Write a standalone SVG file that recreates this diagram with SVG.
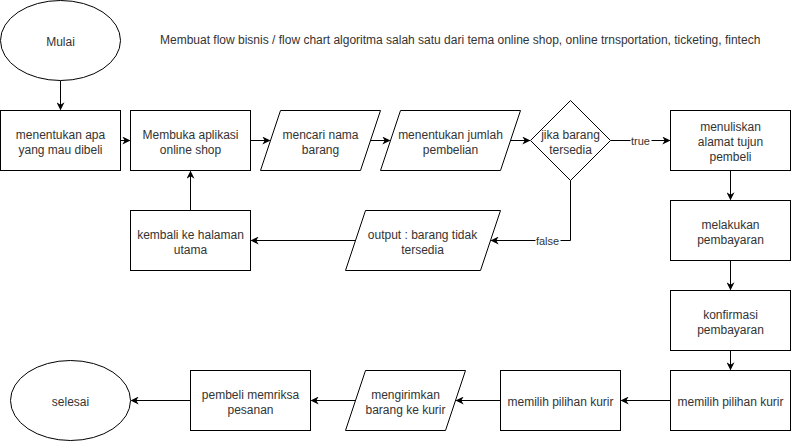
<svg xmlns="http://www.w3.org/2000/svg" width="791" height="441" viewBox="0 0 791 441">
<style>
.s{fill:#fff;stroke:#000;stroke-width:1}
.t{font-family:"Liberation Sans",Arial,sans-serif;font-size:12px;fill:#333;text-anchor:middle}
.l{font-family:"Liberation Sans",Arial,sans-serif;font-size:11px;fill:#333;text-anchor:middle}
.c{fill:none;stroke:#000;stroke-width:1}
</style>
<defs>
<marker id="a" viewBox="0 0 10 10" refX="9" refY="5" markerWidth="8" markerHeight="8" markerUnits="userSpaceOnUse" orient="auto">
<path d="M0,0 L10,5 L0,10 L3,5 Z" fill="#000"/>
</marker>
</defs>
<rect width="791" height="441" fill="#fff"/>
<text class="t" x="160" y="44" style="text-anchor:start">Membuat flow bisnis / flow chart algoritma salah satu dari tema online shop, online trnsportation, ticketing, fintech</text>
<g transform="translate(0.5,0.5)">
<g id="connectors">
<path class="c" d="M60,80 L60,109" marker-end="url(#a)"/>
<path class="c" d="M120,140 L129,140" marker-end="url(#a)"/>
<path class="c" d="M250,140 L269,140" marker-end="url(#a)"/>
<path class="c" d="M370,140 L389,140" marker-end="url(#a)"/>
<path class="c" d="M510,140 L529,140" marker-end="url(#a)"/>
<path class="c" d="M610,140 L669,140" marker-end="url(#a)"/>
<path class="c" d="M570,180 L570,240 L491,240" marker-end="url(#a)"/>
<path class="c" d="M355,240 L251,240" marker-end="url(#a)"/>
<path class="c" d="M190,210 L190,171" marker-end="url(#a)"/>
<path class="c" d="M730,170 L730,199" marker-end="url(#a)"/>
<path class="c" d="M730,260 L730,289" marker-end="url(#a)"/>
<path class="c" d="M730,350 L730,369" marker-end="url(#a)"/>
<path class="c" d="M670,400 L621,400" marker-end="url(#a)"/>
<path class="c" d="M500,400 L456,400" marker-end="url(#a)"/>
<path class="c" d="M355,400 L311,400" marker-end="url(#a)"/>
<path class="c" d="M190,400 L131,400" marker-end="url(#a)"/>
<rect x="630" y="133" width="21" height="13" fill="#fff"/>
<text class="l" x="640" y="144">true</text>
<rect x="535" y="233" width="25" height="13" fill="#fff"/>
<text class="l" x="547" y="244">false</text>
</g>
<g id="mulai"><ellipse class="s" cx="60" cy="40" rx="60" ry="40"/><text class="t" x="60" y="45">Mulai</text></g>
<g id="menentukan"><rect class="s" x="0" y="110" width="120" height="60"/><text class="t" x="60" y="138">menentukan apa</text><text class="t" x="60" y="153">yang mau dibeli</text></g>
<g id="membuka"><rect class="s" x="130" y="110" width="120" height="60"/><text class="t" x="190" y="138">Membuka aplikasi</text><text class="t" x="190" y="153">online shop</text></g>
<g id="mencari"><path class="s" d="M280,110 L380,110 L360,170 L260,170 Z"/><text class="t" x="320" y="138">mencari nama</text><text class="t" x="320" y="153">barang</text></g>
<g id="jumlah"><path class="s" d="M400,110 L520,110 L500,170 L380,170 Z"/><text class="t" x="450" y="138">menentukan jumlah</text><text class="t" x="450" y="153">pembelian</text></g>
<g id="jika"><path class="s" d="M570,100 L610,140 L570,180 L530,140 Z"/><text class="t" x="570" y="138">jika barang</text><text class="t" x="570" y="153">tersedia</text></g>
<g id="menuliskan"><rect class="s" x="670" y="110" width="120" height="60"/><text class="t" x="730" y="130">menuliskan</text><text class="t" x="730" y="145">alamat tujun</text><text class="t" x="730" y="160">pembeli</text></g>
<g id="output"><path class="s" d="M365,210 L500,210 L480,270 L345,270 Z"/><text class="t" x="422" y="238">output : barang tidak</text><text class="t" x="422" y="253">tersedia</text></g>
<g id="kembali"><rect class="s" x="130" y="210" width="120" height="60"/><text class="t" x="190" y="238">kembali ke halaman</text><text class="t" x="190" y="253">utama</text></g>
<g id="melakukan"><rect class="s" x="670" y="200" width="120" height="60"/><text class="t" x="730" y="228">melakukan</text><text class="t" x="730" y="243">pembayaran</text></g>
<g id="konfirmasi"><rect class="s" x="670" y="290" width="120" height="60"/><text class="t" x="730" y="318">konfirmasi</text><text class="t" x="730" y="333">pembayaran</text></g>
<g id="kurir1"><rect class="s" x="670" y="370" width="120" height="60"/><text class="t" x="730" y="405">memilih pilihan kurir</text></g>
<g id="kurir2"><rect class="s" x="500" y="370" width="120" height="60"/><text class="t" x="560" y="405">memilih pilihan kurir</text></g>
<g id="mengirimkan"><path class="s" d="M365,370 L465,370 L445,430 L345,430 Z"/><text class="t" x="405" y="398">mengirimkan</text><text class="t" x="405" y="413">barang ke kurir</text></g>
<g id="pembeli"><rect class="s" x="190" y="370" width="120" height="60"/><text class="t" x="250" y="398">pembeli memriksa</text><text class="t" x="250" y="413">pesanan</text></g>
<g id="selesai"><ellipse class="s" cx="70" cy="400" rx="60" ry="40"/><text class="t" x="70" y="405">selesai</text></g>
</g>
</svg>
